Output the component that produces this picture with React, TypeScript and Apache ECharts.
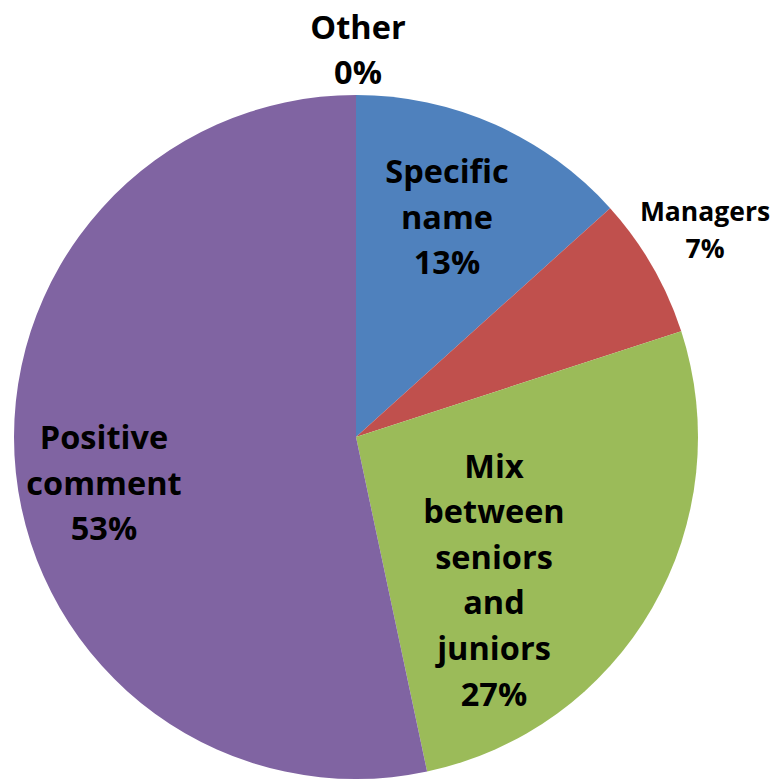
import React, { useEffect, useRef } from "react";
import * as echarts from "echarts";

const categories = ["Specific name", "Managers", "Mix between seniors and juniors", "Positive comment", "Other"];
const labelTexts = ["Specific\nname", "Managers", "Mix\nbetween\nseniors\nand\njuniors", "Positive\ncomment", "Other"];
const values = [2, 1, 4, 8, 0];
const colors = ["#4F81BD", "#C0504D", "#9BBB59", "#8064A2", "#F79646"];

const labelPos: [number, number][] = [
  [447, 216],
  [705, 229],
  [494, 579],
  [104, 482],
  [358, 49],
];

export default function App() {
  const ref = useRef<HTMLDivElement>(null);
  useEffect(() => {
    const chart = echarts.init(ref.current!, null, { renderer: "svg" });
    chart.setOption({
      animation: false,
      backgroundColor: "#ffffff",
      series: [
        {
          type: "pie",
          center: [356, 437],
          radius: 342,
          startAngle: 90,
          clockwise: true,
          percentPrecision: 0,
          avoidLabelOverlap: false,
          labelLine: { show: false },
          data: categories.map((c, i) => ({
            name: c,
            value: values[i],
            itemStyle: { color: colors[i] },
            label: i === 1
              ? { fontSize: 26.5, lineHeight: 37 }
              : { fontSize: 32.5, lineHeight: 45.6 },
          })),
          label: {
            show: true,
            position: "inside",
            color: "#000",
            fontFamily: "Open Sans",
            fontWeight: "bold",
            align: "center",
            formatter: (p: any) => `${labelTexts[p.dataIndex]}\n${p.percent}%`,
          },
          labelLayout: (p: any) => ({
            x: labelPos[p.dataIndex][0],
            y: labelPos[p.dataIndex][1],
            align: "center",
            verticalAlign: "middle",
          }),
        },
      ],
    });
    return () => chart.dispose();
  }, []);
  return (
    <div
      ref={ref}
      style={{ position: "fixed", left: 0, top: 0, width: 773, height: 779 }}
    />
  );
}
